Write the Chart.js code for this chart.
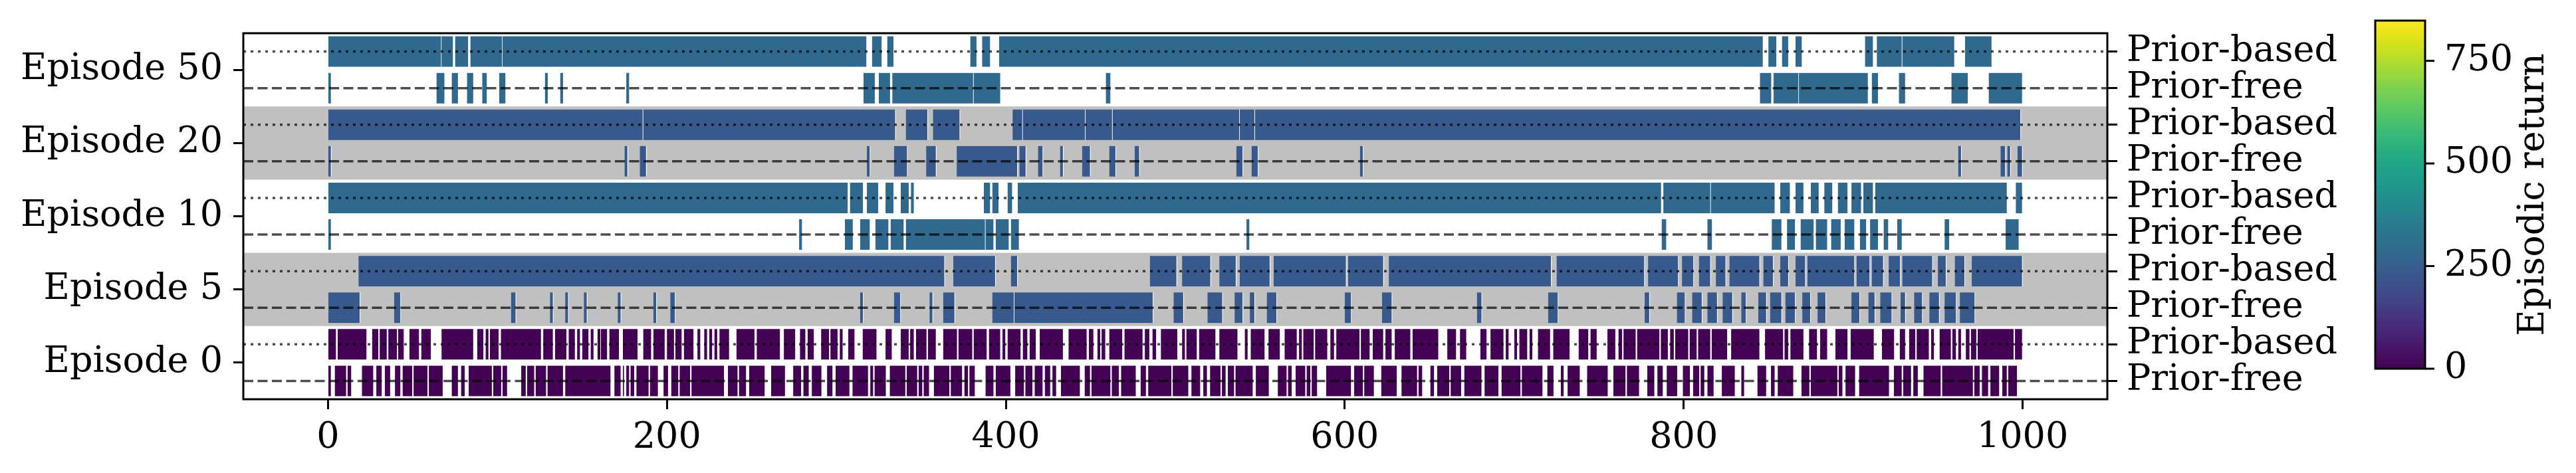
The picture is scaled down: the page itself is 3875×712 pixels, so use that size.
<!DOCTYPE html>
<html>
<head>
<meta charset="utf-8">
<script src="https://cdn.jsdelivr.net/npm/chart.js@4.4.1/dist/chart.umd.min.js"></script>
<style>
  html, body { margin: 0; padding: 0; background: #fff; }
</style>
</head>
<body>
<canvas id="chart" width="3875" height="712"></canvas>
<script>
// Rows: episodes from bottom to top; each has a prior-free (lower) and prior-based (upper) lane
const EPISODES = ['Episode 0', 'Episode 5', 'Episode 10', 'Episode 20', 'Episode 50'];
const SHADED_EPISODES = [1, 3];
const RETURNS_PRIOR_BASED = [2, 235, 284, 235, 284];
const RETURNS_PRIOR_FREE = [2, 235, 284, 235, 284];

const X_TICKS = [0, 200, 400, 600, 800, 1000];
const CBAR_TICKS = [0, 250, 500, 750];
const CBAR_MAX = 848;

// [start, end] step intervals
const EP50_BASED = [[0,67],[67,74],[75,83],[84,103],[103,318],[321,327],[330,334],[379,383],[386,391],[396,847],[850,855],[858,862],[866,870],[907,912],[914,929],[929,960],[966,982]];
const EP50_FREE = [[0,2],[64,69],[73,77],[82,86],[91,94],[101,105],[128,130],[137,139],[176,178],[316,323],[325,332],[333,381],[381,397],[459,462],[845,852],[853,868],[868,909],[911,915],[927,931],[958,968],[980,1000]];

const EP20_BASED = [[0,186],[186,335],[341,354],[357,373],[404,410],[410,447],[447,463],[463,538],[538,547],[547,999]];
const EP20_FREE = [[0,2],[175,177],[184,188],[318,320],[334,342],[353,359],[371,407],[408,412],[419,422],[432,434],[445,450],[461,465],[476,479],[536,540],[545,549],[609,611],[962,964],[987,990],[991,993],[997,1000]];

const EP10_BASED = [[0,307],[308,316],[318,325],[329,334],[338,343],[344,346],[387,391],[392,396],[401,404],[407,787],[788,816],[816,854],[857,863],[866,871],[875,880],[883,888],[891,897],[899,905],[906,912],[913,991],[996,1000]];
const EP10_FREE = [[0,2],[278,280],[305,310],[314,320],[323,331],[332,340],[341,388],[388,393],[394,402],[403,408],[542,544],[787,790],[814,817],[852,858],[861,866],[869,877],[878,885],[887,893],[895,901],[904,908],[910,915],[918,921],[926,929],[954,957],[990,998]];

const EP5_BASED = [[18,364],[369,394],[403,407],[485,501],[504,521],[526,536],[538,556],[558,601],[602,623],[626,722],[725,777],[779,797],[799,806],[809,816],[819,825],[827,845],[847,853],[857,862],[866,872],[873,901],[902,910],[911,918],[921,928],[929,947],[950,955],[960,966],[970,1000]];
const EP5_FREE = [[0,19],[39,43],[108,111],[131,133],[140,142],[151,153],[171,173],[192,194],[202,205],[314,316],[334,338],[355,357],[363,370],[392,405],[405,487],[499,505],[519,528],[535,540],[544,547],[554,560],[600,604],[622,628],[678,681],[720,726],[777,780],[796,801],[805,811],[814,820],[823,829],[834,837],[844,849],[851,858],[860,866],[870,875],[879,884],[899,904],[909,913],[916,923],[928,931],[936,941],[945,951],[954,961],[963,972]];

const EP0_BASED = [[0,5],[5.7,23],[26,30],[30.5,35],[35.6,41],[41.4,45],[48,54],[55,61],[67,86],[88,92],[93,95],[95.5,101],[102,126],[127,133],[134,141],[142,146],[147,149],[150,154],[155,157],[159,161],[161,165],[166,172],[174,183],[186,191],[192,199],[200,204.5],[205,209],[210,216],[218,220],[222,224],[225,227],[228,230],[231,237],[241,252],[253,267],[269,276],[278.5,282],[283,287],[291,296],[296.5,301],[302,304],[307,311],[315.5,324],[329,333],[338,343],[343.5,346],[347,353.5],[354,359],[363,371.5],[372,380.5],[381,389],[390,397],[398,400],[401,409],[410,413],[414,418],[420,434],[437,448],[449,452],[454,456],[456.5,459],[461,469],[470,481],[482,485],[486.5,489],[491.5,501.5],[504,506],[506.5,513],[514,524],[526,537],[541,543],[544.5,553],[555,562],[564.5,572],[573,575],[575.5,582],[582.5,590],[591.5,594],[595,609],[609.5,615],[616.5,623],[624,628],[629.5,639],[640,655.5],[660.5,666],[668,672],[680,684],[686,694],[695,697],[700,702],[703,708],[709,711],[714,721.5],[723,733],[738,744],[745,749],[755,760],[761.5,764],[764.5,772],[772.5,786],[786.5,791],[792,794.5],[795,803],[803.5,808],[808.5,816],[816.5,826],[828,845],[848,859],[859.5,862],[863,871],[874,879],[880.5,885],[889.5,897],[898.5,912.5],[917,924.5],[927.5,931],[933,937],[937.5,945],[946,948],[951,958],[958.5,961],[962,964],[966.5,969],[969.5,973],[973.5,995],[995.5,1000]];
const EP0_FREE = [[0,2],[4,11],[11.5,14],[20,27],[28.5,32],[33.5,37],[39.5,43],[44,50],[50.5,59],[59.5,68],[73,77],[78.5,81],[83,97],[97.5,102.5],[103,106],[114,117],[117.5,122],[122.5,129],[129.5,139],[140,167],[169,173],[174,175],[176,178],[178.5,181],[182,189.5],[190,195],[198,201],[202.5,207],[207.5,214],[214.5,234],[236,242],[242.5,247],[248.5,258],[261.5,270],[274.5,279.5],[280.5,284],[285.5,291.5],[294.5,298],[299.5,308],[309.5,319],[320,322],[322.5,329.5],[331.5,341],[341.5,348],[348.5,351],[351.5,355],[357.5,367],[367.5,374.5],[375.5,378],[378.5,382],[388,393],[394,403],[405.5,411],[411.5,416],[417,422],[423,426.5],[427.5,430],[432.5,444],[446.5,450],[450.5,462],[462.5,467],[468,477],[479.5,483],[484,498],[498.5,508],[509.5,515],[516.5,519],[520.5,527],[527.5,530],[531,535],[535.5,546],[547.5,555.5],[560.5,566],[566.5,569],[571,577],[577.5,580],[580.5,584],[589,604],[605.5,611],[611.5,617.5],[621.5,631],[633.5,643],[643.5,646],[650.5,653],[654.5,662],[662.5,669],[670.5,681],[682.5,691],[692.5,704],[704.5,717],[719.5,723.5],[727.5,729.5],[731.5,739],[743,755.5],[758.5,766],[766.5,774],[778.5,783],[784.5,788],[790,796.5],[799.5,804],[805.5,809.5],[810,812.5],[814,818],[822.5,830.5],[834,836],[843.5,849],[851.5,854],[855.5,865],[869.5,874.5],[875,891],[891.5,894],[895.5,901.5],[903.5,921.5],[924,929],[929.5,934.5],[935.5,938.5],[941.5,952],[952.5,971],[971.5,975],[976,980],[981,986.5],[988,991],[991.5,997]];

const SEGMENTS_PRIOR_BASED = [EP0_BASED, EP5_BASED, EP10_BASED, EP20_BASED, EP50_BASED];
const SEGMENTS_PRIOR_FREE = [EP0_FREE, EP5_FREE, EP10_FREE, EP20_FREE, EP50_FREE];

const VIRIDIS = ['#440154','#471365','#482475','#463480','#414487','#3b528b','#355f8d','#2f6c8e','#2a788e','#25848e','#21918c','#1e9c89','#22a884','#2fb47c','#44bf70','#5ec962','#7ad151','#9bd93c','#bddf26','#dfe318','#fde725'];

const FONT_FAMILY = 'DejaVu Serif';
const FONT_SIZE = 54;

function hexToRgb(h) {
  return [1, 3, 5].map(i => parseInt(h.slice(i, i + 2), 16));
}

// map an episodic return to the viridis colour used by the colorbar
function returnColor(v) {
  const t = Math.max(0, Math.min(1, v / CBAR_MAX)) * (VIRIDIS.length - 1);
  const i = Math.min(Math.floor(t), VIRIDIS.length - 2);
  const f = t - i;
  const a = hexToRgb(VIRIDIS[i]);
  const b = hexToRgb(VIRIDIS[i + 1]);
  const c = a.map((x, k) => Math.round(x + (b[k] - x) * f));
  return `rgb(${c[0]},${c[1]},${c[2]})`;
}

const LANE_OFFSET = 0.25;

const datasets = [];
EPISODES.forEach((ep, i) => {
  const lanes = [
    { pos: i + LANE_OFFSET, segs: SEGMENTS_PRIOR_BASED[i], ret: RETURNS_PRIOR_BASED[i], dash: [4, 7] },
    { pos: i - LANE_OFFSET, segs: SEGMENTS_PRIOR_FREE[i], ret: RETURNS_PRIOR_FREE[i], dash: [15, 6.5] },
  ];
  lanes.forEach(lane => {
    datasets.push({
      type: 'bar',
      data: lane.segs.map(s => ({ x: s, y: lane.pos })),
      backgroundColor: returnColor(lane.ret),
      borderColor: '#ffffff',
      borderWidth: { left: 0, right: 1.2, top: 0, bottom: 0 },
      borderSkipped: false,
      barThickness: 46,
      grouped: false,
      order: 1,
    });
    datasets.push({
      type: 'line',
      data: [{ x: -50, y: lane.pos }, { x: 1050, y: lane.pos }],
      borderColor: 'rgba(0,0,0,0.7)',
      borderWidth: 3.5,
      borderDash: lane.dash,
      borderCapStyle: 'butt',
      pointRadius: 0,
      fill: false,
      order: 0,
    });
  });
});

// grey background bands behind alternate episodes
const bandsPlugin = {
  id: 'bands',
  beforeDatasetsDraw(chart) {
    const { ctx, chartArea, scales } = chart;
    ctx.save();
    ctx.fillStyle = '#c0c0c0';
    SHADED_EPISODES.forEach(i => {
      const top = scales.y.getPixelForValue(i + 0.5);
      const bottom = scales.y.getPixelForValue(i - 0.5);
      ctx.fillRect(chartArea.left, top, chartArea.right - chartArea.left, bottom - top);
    });
    ctx.restore();
  },
};

// axes frame drawn over the bars
const framePlugin = {
  id: 'frame',
  afterDatasetsDraw(chart) {
    const { ctx, chartArea } = chart;
    ctx.save();
    ctx.strokeStyle = '#000';
    ctx.lineWidth = 3;
    ctx.strokeRect(chartArea.left, chartArea.top, chartArea.right - chartArea.left, chartArea.bottom - chartArea.top);
    ctx.restore();
  },
};

const colorbarPlugin = {
  id: 'colorbar',
  afterDraw(chart) {
    const ctx = chart.ctx;
    const left = 3573, right = 3648, top = 31, bottom = 555;
    const grad = ctx.createLinearGradient(0, bottom, 0, top);
    VIRIDIS.forEach((c, i) => grad.addColorStop(i / (VIRIDIS.length - 1), c));
    ctx.save();
    ctx.fillStyle = grad;
    ctx.fillRect(left, top, right - left, bottom - top);
    ctx.strokeStyle = '#000';
    ctx.lineWidth = 3;
    ctx.strokeRect(left, top, right - left, bottom - top);
    ctx.font = `${FONT_SIZE}px "${FONT_FAMILY}"`;
    ctx.fillStyle = '#000';
    ctx.textAlign = 'left';
    ctx.textBaseline = 'middle';
    CBAR_TICKS.forEach(v => {
      const y = bottom - (v / CBAR_MAX) * (bottom - top);
      ctx.beginPath();
      ctx.moveTo(right, y);
      ctx.lineTo(right + 14, y);
      ctx.stroke();
      ctx.fillText(String(v), right + 29, y);
    });
    ctx.translate(3812, (top + bottom) / 2);
    ctx.rotate(-Math.PI / 2);
    ctx.textAlign = 'center';
    ctx.fillText('Episodic return', 0, 0);
    ctx.restore();
  },
};

const tickFont = { family: FONT_FAMILY, size: FONT_SIZE };
const tickGrid = { drawOnChartArea: false, drawTicks: true, tickLength: 15, tickWidth: 3, color: '#000', offset: false };

new Chart(document.getElementById('chart'), {
  type: 'bar',
  data: { datasets },
  plugins: [bandsPlugin, framePlugin, colorbarPlugin],
  options: {
    indexAxis: 'y',
    responsive: false,
    maintainAspectRatio: false,
    devicePixelRatio: 1,
    animation: false,
    layout: { padding: { top: 50, left: 0, right: 0, bottom: 0 } },
    plugins: { legend: { display: false }, tooltip: { enabled: false } },
    scales: {
      x: {
        type: 'linear',
        position: 'bottom',
        min: -50,
        max: 1050,
        offset: false,
        grid: tickGrid,
        border: { display: false },
        afterBuildTicks: s => { s.ticks = X_TICKS.map(v => ({ value: v })); },
        afterFit: s => { s.height = 111; },
        ticks: {
          font: tickFont, color: '#000', padding: 12, autoSkip: false, maxRotation: 0,
          callback: v => String(v),
        },
      },
      y: {
        type: 'linear',
        position: 'left',
        min: -0.5,
        max: 4.5,
        offset: false,
        grid: tickGrid,
        border: { display: false },
        afterBuildTicks: s => { s.ticks = EPISODES.map((_, i) => ({ value: i })); },
        afterFit: s => { s.width = 366; },
        ticks: {
          font: tickFont, color: '#000', padding: 16, autoSkip: false,
          callback: v => EPISODES[Math.round(v)],
        },
      },
      y2: {
        type: 'linear',
        position: 'right',
        min: -0.5,
        max: 4.5,
        offset: false,
        grid: tickGrid,
        border: { display: false },
        afterBuildTicks: s => {
          const t = [];
          EPISODES.forEach((_, i) => { t.push({ value: i - LANE_OFFSET }, { value: i + LANE_OFFSET }); });
          s.ticks = t;
        },
        afterFit: s => { s.width = 705; },
        ticks: {
          font: tickFont, color: '#000', padding: 14, autoSkip: false,
          callback: v => (v - Math.floor(v) > 0.5 ? 'Prior-free' : 'Prior-based'),
        },
      },
    },
  },
});
</script>
</body>
</html>
